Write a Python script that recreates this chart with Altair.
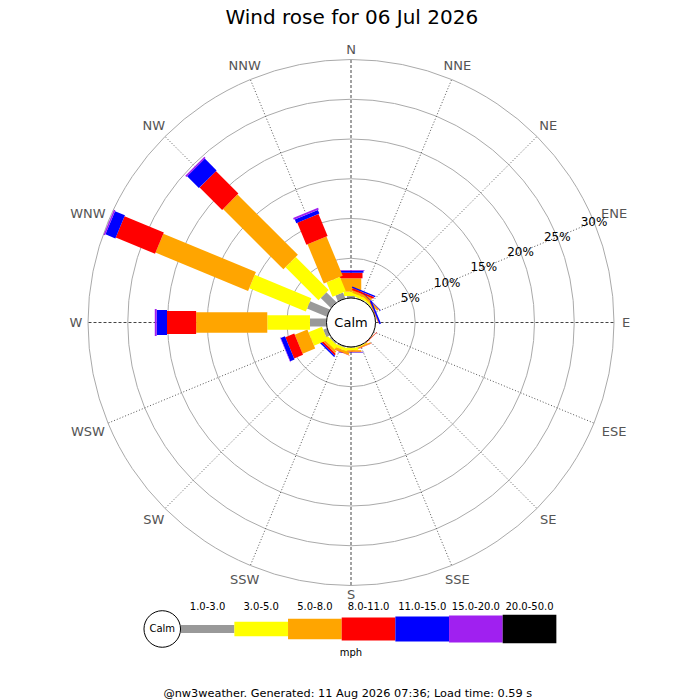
import math
import altair as alt
import pandas as pd

# ---------------- data ----------------
DIRS = ["N", "NNE", "NE", "ENE", "E", "ESE", "SE", "SSE",
        "S", "SSW", "SW", "WSW", "W", "WNW", "NW", "NNW"]
CLASSES = ["1.0-3.0", "3.0-5.0", "5.0-8.0", "8.0-11.0",
           "11.0-15.0", "15.0-20.0", "20.0-50.0"]

# frequency (%) per speed class, per direction (N .. NNW)
f_1_3   = [0.25, 0.10, 0.10, 0.00, 0, 0, 0.02, 0.05, 0.10, 0.15, 0.20, 0.50, 2.08, 2.70, 1.80, 0.80]
f_3_5   = [0.55, 0.35, 0.20, 0.05, 0, 0, 0.02, 0.10, 0.30, 0.35, 0.60, 1.83, 5.37, 7.70, 5.86, 1.95]
f_5_8   = [1.68, 0.30, 0.25, 0.05, 0, 0, 0.02, 0.15, 0.20, 0.30, 0.27, 1.72, 8.95, 12.60, 10.74, 5.35]
f_8_11  = [0.70, 0.25, 0.05, 0.05, 0, 0, 0.06, 0.05, 0.05, 0.05, 0.23, 1.21, 3.66, 5.35, 4.00, 3.00]
f_11_15 = [0.25, 0.17, 0.05, 0.20, 0, 0, 0.00, 0.00, 0.05, 0.00, 0.20, 0.58, 1.30, 1.35, 2.10, 0.50]
f_15_20 = [0.09, 0.00, 0.00, 0.00, 0, 0, 0.00, 0.00, 0.02, 0.00, 0.00, 0.06, 0.24, 0.20, 0.20, 0.25]
f_20_50 = [0.00] * 16
FREQS = [f_1_3, f_3_5, f_5_8, f_8_11, f_11_15, f_15_20, f_20_50]

RING_PCTS = [5, 10, 15, 20, 25, 30]

TITLE = "Wind rose for 06 Jul 2026"
FOOTER = "@nw3weather. Generated: 11 Aug 2026 07:36; Load time: 0.59 s"
UNIT = "mph"

# ---------------- styling / layout ----------------
COLORS = ["#999999", "#ffff00", "#ffa500", "#ff0000", "#0000ff", "#a020f0", "#000000"]
WIDTHS = [8, 14.5, 20.5, 23, 25, 27, 28.5]
FONT = "DejaVu Sans"

SIDE = 526                 # plot size in px
CALM = 3.08                # radius of calm hole, in % units
D = 33.08                  # half-extent of the plot, in % units
K = SIDE / (2 * D)         # px per unit
LABEL_R0 = 270             # px, inner edge of direction labels
LEG_X0, LEG_STEP, LEG_Y = -21.42, 6.75, -38.55
LEG_LABEL_Y = -35.82
LEG_CALM_X, LEG_CALM_R = -23.74, 2.30
MPH_Y, FOOT_Y, TITLE_Y = -41.57, -46.78, 38.3

rows = []
for di, d in enumerate(DIRS):
    for ci, c in enumerate(CLASSES):
        rows.append({"dir": d, "di": di, "cls": c, "ci": ci, "freq": FREQS[ci][di]})
bars_df = pd.DataFrame(rows)
dirs_df = pd.DataFrame({"dir": DIRS, "di": list(range(16))})
rings_df = pd.DataFrame({"pct": RING_PCTS})
cls_df = pd.DataFrame({"cls": CLASSES, "ci": list(range(7))})

xs = alt.Scale(domain=[-D, D], nice=False, zero=False)
ys = alt.Scale(domain=[-D, D], nice=False, zero=False)
size_scale = alt.Scale(type="pow", exponent=2, domain=[0, D], range=[0, SIDE ** 2])
col_scale = alt.Scale(domain=CLASSES, range=COLORS)
WIDTH_EXPR = "[" + ",".join(str(w) for w in WIDTHS) + "][datum.ci]"


def X(f):
    return alt.X(f, type="quantitative", scale=xs, axis=None)


def Y(f):
    return alt.Y(f, type="quantitative", scale=ys, axis=None)


# rings
rings = alt.Chart(rings_df).transform_calculate(
    r=f"{CALM} + datum.pct", zx="0", zy="0"
).mark_point(shape="circle", filled=False, stroke="#aaaaaa", strokeWidth=1, opacity=1).encode(
    x=X("zx"), y=Y("zy"),
    size=alt.Size("r:Q", scale=size_scale, legend=None),
)

# spokes
spoke_base = alt.Chart(dirs_df).transform_calculate(
    a="datum.di * PI / 8",
    xa=f"{CALM} * sin(datum.a)", ya=f"{CALM} * cos(datum.a)",
    xb=f"{CALM + 30} * sin(datum.a)", yb=f"{CALM + 30} * cos(datum.a)",
)
spokes_card = spoke_base.transform_filter("datum.di % 4 == 0").mark_rule(
    stroke="#444444", strokeWidth=1, strokeDash=[3, 2]
).encode(x=X("xa"), y=Y("ya"), x2="xb:Q", y2="yb:Q")
spokes_other = spoke_base.transform_filter("datum.di % 4 != 0").mark_rule(
    stroke="#555555", strokeWidth=1, strokeDash=[1, 2]
).encode(x=X("xa"), y=Y("ya"), x2="xb:Q", y2="yb:Q")

# bars
bars = alt.Chart(bars_df).transform_window(
    cum="sum(freq)", groupby=["dir"], sort=[alt.SortField("ci")], frame=[None, 0]
).transform_filter("datum.freq > 0").transform_calculate(
    a="datum.di * PI / 8",
    r1=f"{CALM} + datum.cum",
    r0="datum.r1 - datum.freq",
    x0="datum.r0 * sin(datum.a)", y0="datum.r0 * cos(datum.a)",
    x1="datum.r1 * sin(datum.a)", y1="datum.r1 * cos(datum.a)",
    seq="datum.di * 10 + datum.ci",
    sw=WIDTH_EXPR,
).mark_rule(strokeCap="butt").encode(
    x=X("x0"), y=Y("y0"), x2="x1:Q", y2="y1:Q",
    color=alt.Color("cls:N", scale=col_scale, legend=None),
    strokeWidth=alt.StrokeWidth("sw:Q", scale=None, legend=None),
    order=alt.Order("seq:Q"),
)

# calm circle
calm = alt.Chart(pd.DataFrame({"t": ["Calm"]})).transform_calculate(
    r=f"{CALM}", zx="0", zy="0"
).mark_point(shape="circle", filled=True, fill="white", stroke="black", strokeWidth=1, opacity=1).encode(
    x=X("zx"), y=Y("zy"), size=alt.Size("r:Q", scale=size_scale, legend=None)
)
calm_txt = alt.Chart(pd.DataFrame({"t": ["Calm"]})).transform_calculate(zx="0", zy="0").mark_text(
    font=FONT, fontSize=13, color="black", baseline="middle", align="center"
).encode(x=X("zx"), y=Y("zy"), text="t:N")

# direction labels (inner edge of the text box sits on a fixed radius)
dir_lbl = alt.Chart(dirs_df).transform_calculate(
    a="datum.di * PI / 8",
    rl=f"({LABEL_R0} + 5 * length(datum.dir) * abs(sin(datum.a)) + 2.5 * abs(cos(datum.a))) / {K}",
    lx="datum.rl * sin(datum.a)", ly="datum.rl * cos(datum.a) - 0.06",
).mark_text(font=FONT, fontSize=13, color="#555555", baseline="middle", align="center").encode(
    x=X("lx"), y=Y("ly"), text="dir:N"
)

# ring labels along ENE
ring_lbl = alt.Chart(rings_df).transform_calculate(
    r=f"{CALM} + datum.pct",
    lx="datum.r * sin(3 * PI / 8)", ly="datum.r * cos(3 * PI / 8)",
    t="datum.pct + '%'",
).mark_text(font=FONT, fontSize=12, color="black", baseline="middle", align="center").encode(
    x=X("lx"), y=Y("ly"), text="t:N"
)

# legend
leg_base = alt.Chart(cls_df).transform_calculate(
    lx0=f"{LEG_X0} + datum.ci * {LEG_STEP}",
    lx1=f"{LEG_X0} + (datum.ci + 1) * {LEG_STEP}",
    lxc=f"{LEG_X0} + (datum.ci + 0.5) * {LEG_STEP}",
    ly=f"{LEG_Y}", lly=f"{LEG_LABEL_Y}",
    sw=WIDTH_EXPR,
)
leg_bars = leg_base.mark_rule(strokeCap="butt").encode(
    x=X("lx0"), y=Y("ly"), x2="lx1:Q", y2="ly:Q",
    color=alt.Color("cls:N", scale=col_scale, legend=None),
    strokeWidth=alt.StrokeWidth("sw:Q", scale=None, legend=None),
)
leg_lbls = leg_base.mark_text(font=FONT, fontSize=10, color="black", baseline="middle", align="center").encode(
    x=X("lxc"), y=Y("lly"), text="cls:N"
)
leg_calm_df = pd.DataFrame({"t": ["Calm"]})
leg_calm = alt.Chart(leg_calm_df).transform_calculate(
    r=f"{LEG_CALM_R}", cx=f"{LEG_CALM_X}", cy=f"{LEG_Y}"
).mark_point(shape="circle", filled=True, fill="white", stroke="black", strokeWidth=1, opacity=1).encode(
    x=X("cx"), y=Y("cy"), size=alt.Size("r:Q", scale=size_scale, legend=None)
)
leg_calm_txt = alt.Chart(leg_calm_df).transform_calculate(
    cx=f"{LEG_CALM_X}", cy=f"{LEG_Y}"
).mark_text(font=FONT, fontSize=10, color="black", baseline="middle", align="center").encode(
    x=X("cx"), y=Y("cy"), text="t:N"
)

texts_df = pd.DataFrame({
    "t": [TITLE, UNIT, FOOTER],
    "tx": [0.1, 0, -0.4],
    "ty": [TITLE_Y, MPH_Y, FOOT_Y],
    "fs": [20, 10, 11.3],
})
misc_txt = alt.Chart(texts_df).mark_text(font=FONT, color="black", baseline="middle", align="center").encode(
    x=X("tx"), y=Y("ty"), text="t:N",
    size=alt.Size("fs:Q", scale=None, legend=None),
)

chart = alt.layer(
    rings, spokes_card, spokes_other, bars, calm, calm_txt, dir_lbl, ring_lbl,
    leg_bars, leg_lbls, leg_calm, leg_calm_txt, misc_txt,
).properties(
    width=SIDE, height=SIDE,
    autosize=alt.AutoSizeParams(type="none"),
    padding={"left": 80, "top": 51.5, "right": 30, "bottom": 113.5},
    background="white",
).resolve_scale(size="independent").configure_view(stroke=None)

chart.save("out.html", embed_options={"renderer": "svg", "actions": False})
